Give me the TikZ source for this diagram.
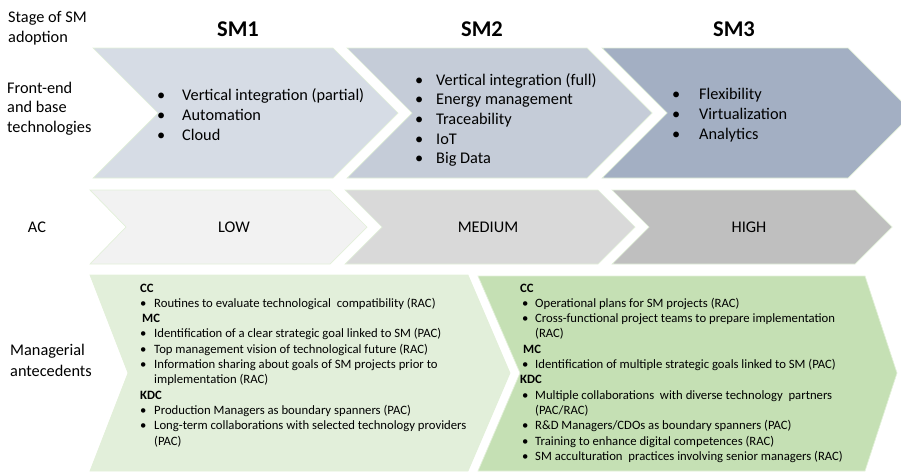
\documentclass[tikz,border=0pt]{standalone}
\usepackage{fontspec}
\setmainfont{Carlito}
\definecolor{smA}{HTML}{D6DCE5}
\definecolor{smB}{HTML}{C5CCD8}
\definecolor{smC}{HTML}{A3AFC3}
\definecolor{acA}{HTML}{F2F2F2}
\definecolor{acB}{HTML}{D9D9D9}
\definecolor{acC}{HTML}{BFBFBF}
\definecolor{grA}{HTML}{E2EFDA}
\definecolor{grB}{HTML}{C5E0B4}
\definecolor{edgeg}{HTML}{E2F0D9}
\newcommand\bulw[1]{\makebox[#1pt][l]{•}}
\begin{document}
\begin{tikzpicture}[x=1pt,y=-1pt,
  chev/.style={draw=edgeg,line width=0.7pt},
  lab/.style={inner sep=0pt,anchor=base west,font=\fontsize{16.3}{19.6}\selectfont},
  labc/.style={inner sep=0pt,anchor=base,font=\fontsize{16.3}{19.6}\selectfont},
  stg/.style={inner sep=0pt,anchor=base,font=\fontsize{22.5}{26}\selectfont\bfseries},
  lst/.style={inner sep=0pt,anchor=base west,font=\fontsize{12.7}{15.3}\selectfont}]
\useasboundingbox (0,0) rectangle (901,472);
\begin{scope}
\clip (0,0) rectangle (901,472);
% top row
\path[chev,fill=smA] (93,48) -- (333,48) -- (398,113) -- (333,178) -- (93,178) -- (158,113) -- cycle;
\path[chev,fill=smB] (347,48) -- (587,48) -- (652,113) -- (587,178) -- (347,178) -- (412,113) -- cycle;
\path[chev,fill=smC] (602,48) -- (848,48) -- (913,113) -- (848,178) -- (602,178) -- (667,113) -- cycle;
% AC row
\path[chev,fill=acA] (90,190) -- (330,190) -- (367,227) -- (330,264) -- (90,264) -- (126,227) -- cycle;
\path[chev,fill=acB] (345,190) -- (598,190) -- (635,227) -- (598,264) -- (345,264) -- (382,227) -- cycle;
\path[chev,fill=acC] (612,190) -- (855,190) -- (892,227) -- (855,264) -- (612,264) -- (649,227) -- cycle;
% bottom row
\path[chev,fill=grA] (90,275) -- (468,275) -- (510,373) -- (468,471) -- (90,471) -- (128,373) -- cycle;
\path[chev,fill=grB] (478,276) -- (865,276) -- (897,373) -- (865,471) -- (478,471) -- (520,373) -- cycle;
\end{scope}
% left labels
\node[lab] (st1) at (8,22.5) {Stage of SM};
\node[lab] (st2) at (8,42) {adoption};
\node[lab] (fe1) at (7,93) {Front-end};
\node[lab] (fe2) at (7,112.5) {and base};
\node[lab] (fe3) at (7,132) {technologies};
\node[labc] (ac) at (37,232.5) {AC};
\node[lab] (ma1) at (10,355) {Managerial};
\node[lab] (ma2) at (10,376) {antecedents};
% stages
\node[stg] (sm1) at (238,36) {SM1};
\node[stg] (sm2) at (482,36) {SM2};
\node[stg] (sm3) at (734,36) {SM3};
% technologies
\node[lab] (t11) at (157,100) {\bulw{25}Vertical integration (partial)};
\node[lab] (t12) at (157,120) {\bulw{25}Automation};
\node[lab] (t13) at (157,140) {\bulw{25}Cloud};
\node[lab] (t21) at (415,85) {\bulw{21}Vertical integration (full)};
\node[lab] (t22) at (415,104.7) {\bulw{21}Energy management};
\node[lab] (t23) at (415,124.4) {\bulw{21}Traceability};
\node[lab] (t24) at (415,144.1) {\bulw{21}IoT};
\node[lab] (t25) at (415,163.8) {\bulw{21}Big Data};
\node[lab] (t31) at (672,99) {\bulw{27}Flexibility};
\node[lab] (t32) at (672,119) {\bulw{27}Virtualization};
\node[lab] (t33) at (672,139) {\bulw{27}Analytics};
% AC levels
\node[labc] (low) at (234,232.5) {LOW};
\node[labc] (med) at (488,232.5) {MEDIUM};
\node[labc] (high) at (749,232.5) {HIGH};
% managerial antecedents, left
\node[lst] (a1) at (140,292) {\textbf{CC}};
\node[lst] (a2) at (140,307.3) {\bulw{14}Routines to evaluate technological\ \ compatibility (RAC)};
\node[lst] (a3) at (142,322.6) {\textbf{MC}};
\node[lst] (a4) at (140,337.9) {\bulw{14}Identification of a clear strategic goal linked to SM (PAC)};
\node[lst] (a5) at (140,353.2) {\bulw{14}Top management vision of technological future (RAC)};
\node[lst] (a6) at (140,368.5) {\bulw{14}Information sharing about goals of SM projects prior to};
\node[lst] (a7) at (154,383.8) {implementation (RAC)};
\node[lst] (a8) at (140,399.1) {\textbf{KDC}};
\node[lst] (a9) at (140,414.4) {\bulw{14}Production Managers as boundary spanners (PAC)};
\node[lst] (a10) at (140,429.7) {\bulw{14}Long-term collaborations with selected technology providers};
\node[lst] (a11) at (154,445) {(PAC)};
% managerial antecedents, right
\node[lst] (b1) at (520,292) {\textbf{CC}};
\node[lst] (b2) at (522,307.3) {\bulw{13}Operational plans for SM projects (RAC)};
\node[lst] (b3) at (522,322.6) {\bulw{13}Cross-functional project teams to prepare implementation};
\node[lst] (b4) at (535,337.9) {(RAC)};
\node[lst] (b5) at (523,353.2) {\textbf{MC}};
\node[lst] (b6) at (522,368.5) {\bulw{13}Identification of multiple strategic goals linked to SM (PAC)};
\node[lst] (b7) at (520,383.8) {\textbf{KDC}};
\node[lst] (b8) at (522,399.1) {\bulw{13}Multiple collaborations\ \ with diverse technology\ \ partners};
\node[lst] (b9) at (535,414.4) {(PAC/RAC)};
\node[lst] (b10) at (522,429.7) {\bulw{13}R\&D Managers/CDOs as boundary spanners (PAC)};
\node[lst] (b11) at (522,445) {\bulw{13}Training to enhance digital competences (RAC)};
\node[lst] (b12) at (522,460.3) {\bulw{13}SM acculturation\ \ practices involving senior managers (RAC)};
\end{tikzpicture}
\end{document}
